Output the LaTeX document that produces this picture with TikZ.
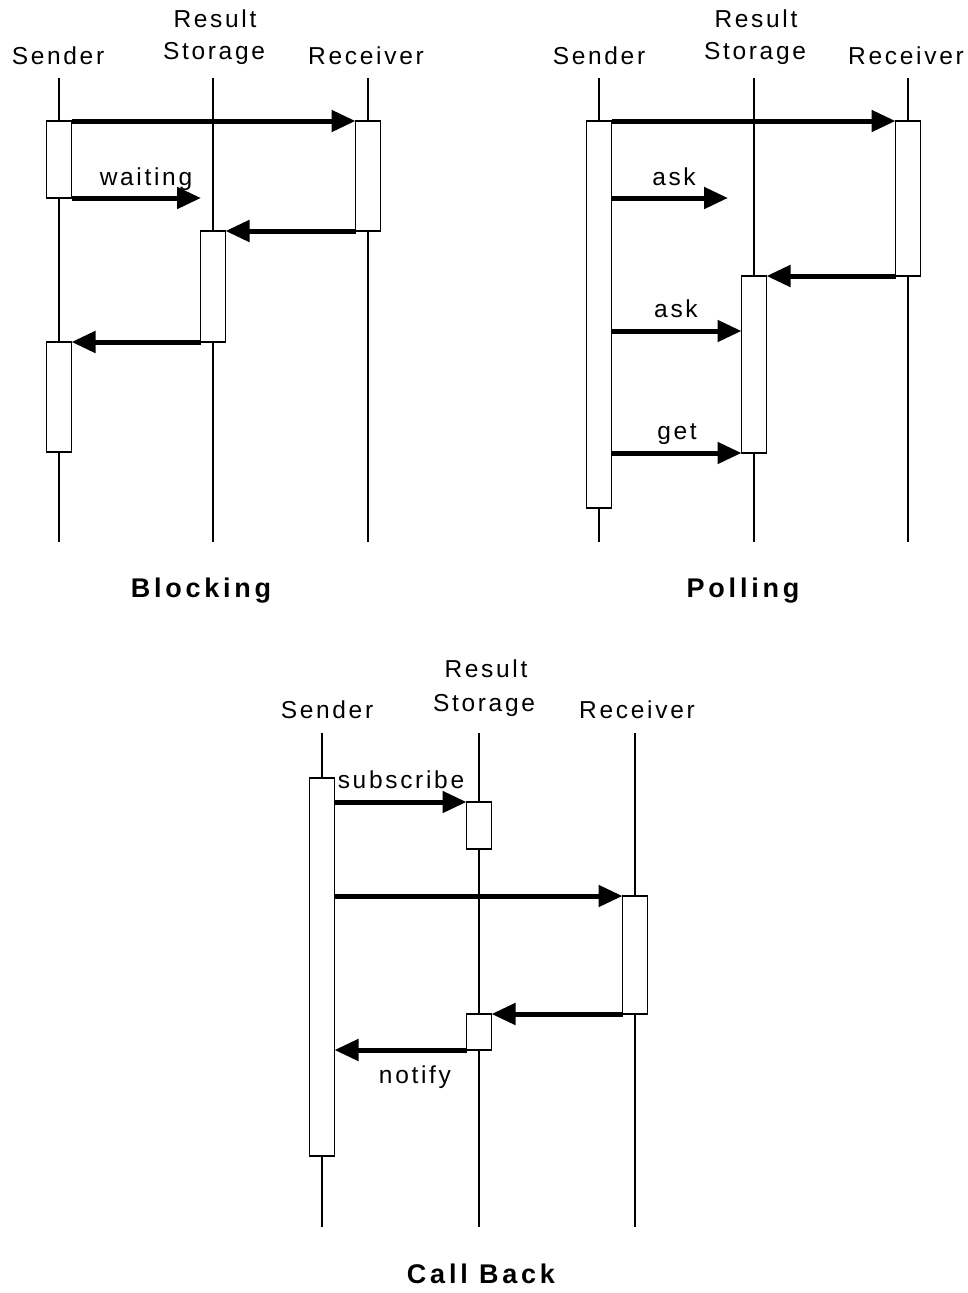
\documentclass[tikz,border=0pt]{standalone}
\usepackage{fontspec}
\setmainfont{Liberation Sans}
\newfontfamily\lblfont[LetterSpace=11]{Liberation Sans}
\newfontfamily\ttlfont[LetterSpace=14]{Liberation Sans}
\usetikzlibrary{arrows.meta}
\begin{document}
\begin{tikzpicture}[x=1pt,y=-1pt,
  life/.style={line width=1.5pt},
  act/.style={draw, fill=white, line width=1.5pt, minimum width=25pt, inner sep=0pt, outer sep=0pt, rectangle},
  msg/.style={line width=5pt, -{Triangle[length=24pt,width=21pt]}},
  lbl/.style={anchor=base, inner sep=0pt, font=\lblfont\fontsize{24.5}{26}\selectfont},
  ttl/.style={anchor=base, inner sep=0pt, font=\ttlfont\bfseries\fontsize{27}{29}\selectfont}]
\useasboundingbox (0,0) rectangle (968,1293);
%% ---------------- Blocking ----------------
\node[lbl] (bhS) at (58,64) {Sender};
\node[lbl] (bhT1) at (215,27) {Result};
\node[lbl] (bhT2) at (214,59) {Storage};
\node[lbl] (bhR) at (366,64) {Receiver};
\draw[life] (59,78) -- (59,542);
\draw[life] (213,78) -- (213,542);
\draw[life] (368,78) -- (368,542);
\node[act, minimum height=77pt] (bS1) at (59,159.5) {};
\node[act, minimum height=110pt] (bS2) at (59,397) {};
\node[act, minimum height=110pt] (bR1) at (368,176) {};
\node[act, minimum height=111pt] (bT1) at (213,286.5) {};
\coordinate (bWait) at (201,198);
\draw[msg] (bS1.north east) -- (bR1.north west);
\draw[msg] (bS1.south east) -- (bWait);
\node[lbl] (bWaitL) at (146,185) {waiting};
\draw[msg] (bR1.south west) -- (bT1.north east);
\draw[msg] (bT1.south west) -- (bS2.north east);
\node[ttl] (bTitle) at (201,597) {Blocking};
%% ---------------- Polling ----------------
\node[lbl] (phS) at (599,64) {Sender};
\node[lbl] (phT1) at (756,27) {Result};
\node[lbl] (phT2) at (755,59) {Storage};
\node[lbl] (phR) at (906,64) {Receiver};
\draw[life] (599,78) -- (599,542);
\draw[life] (754,78) -- (754,542);
\draw[life] (908,78) -- (908,542);
\node[act, minimum height=387pt] (pS1) at (599,314.5) {};
\node[act, minimum height=155pt] (pR1) at (908,198.5) {};
\node[act, minimum height=177pt] (pT1) at (754,364.5) {};
\coordinate (pAsk1) at (728,198);
\coordinate (pAsk2) at (741,331);
\draw[msg] (pS1.north east) -- (pR1.north west);
\draw[msg] (pS1.east |- pAsk1) -- (pAsk1);
\node[lbl] (pAsk1L) at (674,185) {ask};
\draw[msg] (pR1.south west) -- (pT1.north east);
\draw[msg] (pS1.east |- pAsk2) -- (pT1.west |- pAsk2);
\node[lbl] (pAsk2L) at (676,317) {ask};
\draw[msg] (pS1.east |- pT1.south west) -- (pT1.south west);
\node[lbl] (pGetL) at (677,439) {get};
\node[ttl] (pTitle) at (743,597) {Polling};
%% ---------------- Call Back ----------------
\node[lbl] (chS) at (327,718) {Sender};
\node[lbl] (chT1) at (486,677) {Result};
\node[lbl] (chT2) at (484,711) {Storage};
\node[lbl] (chR) at (637,718) {Receiver};
\draw[life] (322,733) -- (322,1227);
\draw[life] (479,733) -- (479,1227);
\draw[life] (635,733) -- (635,1227);
\node[act, minimum height=378pt] (cS1) at (322,967) {};
\node[act, minimum height=47pt] (cT1) at (479,825.5) {};
\node[act, minimum height=118pt] (cR1) at (635,955) {};
\node[act, minimum height=36pt] (cT2) at (479,1032) {};
\draw[msg] (cS1.east |- cT1.north west) -- (cT1.north west);
\node[lbl] (cSubL) at (401,788) {subscribe};
\draw[msg] (cS1.east |- cR1.north west) -- (cR1.north west);
\draw[msg] (cR1.south west) -- (cT2.north east);
\draw[msg] (cT2.south west) -- (cS1.east |- cT2.south west);
\node[lbl] (cNotL) at (415,1083) {notify};
\node[ttl] (cTitle) at (481,1283) {Call Back};
\end{tikzpicture}
\end{document}
